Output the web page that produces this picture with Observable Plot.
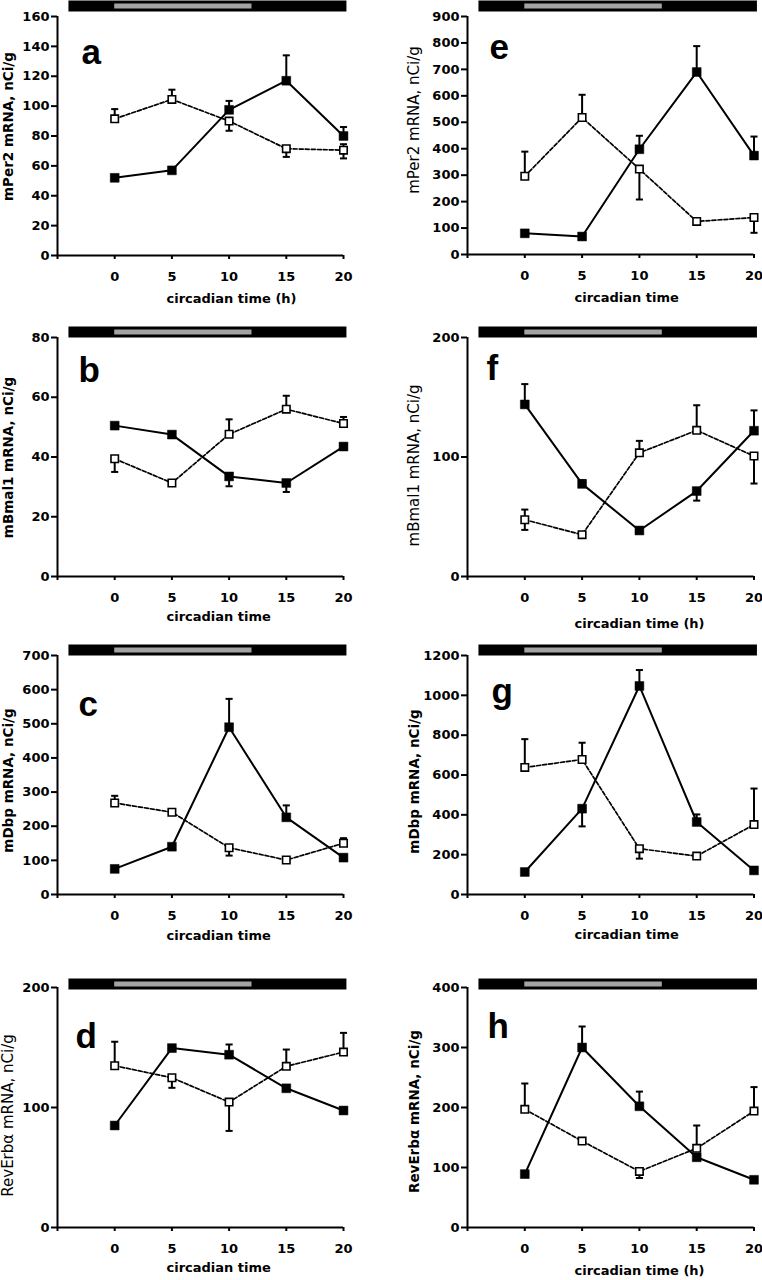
<!DOCTYPE html>
<html><head><meta charset="utf-8">
<script src="https://cdn.jsdelivr.net/npm/d3@7"></script>
<script src="https://cdn.jsdelivr.net/npm/@observablehq/plot@0.6"></script>
<style>
body{margin:0;background:#fff;}
#fig{position:relative;width:762px;height:1280px;overflow:hidden;background:#fff;}
.panel{position:absolute;width:381px;height:320px;}
</style></head><body><div id="fig"></div>
<script>
// ---- data ----
const times = [0, 5, 10, 15, 20];
const xTicks = [-5, 0, 5, 10, 15, 20];
const darkPhase = [-4, 20.3];
const lightPhase = [0, 12];

// a: mPer2 (left)
const aTicks = [0, 20, 40, 60, 80, 100, 120, 140, 160];
const aFilled = [52, 57, 97.5, 117, 80];
const aFilledUp = [0, 0, 6, 17, 6];
const aFilledDown = [0, 0, 0, 0, 0];
const aOpen = [91.5, 104.5, 90, 71.5, 70.5];
const aOpenUp = [6.5, 6.5, 0, 0, 4];
const aOpenDown = [0, 0, 6.5, 5.5, 5.5];

// b: mBmal1 (left)
const bTicks = [0, 20, 40, 60, 80];
const bFilled = [50.5, 47.5, 33.5, 31.3, 43.5];
const bFilledUp = [0, 0, 0, 0, 0];
const bFilledDown = [0, 0, 3.3, 3, 0];
const bOpen = [39.4, 31.3, 47.6, 56, 51.2];
const bOpenUp = [0, 0, 5, 4.5, 2.2];
const bOpenDown = [4.4, 0, 0, 0, 0];

// c: mDbp (left)
const cTicks = [0, 100, 200, 300, 400, 500, 600, 700];
const cFilled = [75, 140, 490, 226, 108];
const cFilledUp = [0, 0, 83, 35, 0];
const cFilledDown = [0, 0, 0, 0, 0];
const cOpen = [268, 241, 137, 101, 150];
const cOpenUp = [21, 0, 0, 0, 15];
const cOpenDown = [0, 0, 23, 0, 0];

// d: RevErbα (left)
const dTicks = [0, 100, 200];
const dFilled = [85, 149.5, 144, 116, 97.5];
const dFilledUp = [0, 0, 8.5, 0, 0];
const dFilledDown = [0, 0, 0, 0, 0];
const dOpen = [134.8, 124.8, 104.5, 134.3, 146.2];
const dOpenUp = [20, 0, 0, 14, 16];
const dOpenDown = [0, 8.4, 24, 0, 0];

// e: mPer2 (right)
const eTicks = [0, 100, 200, 300, 400, 500, 600, 700, 800, 900];
const eFilled = [80, 68, 398, 690, 374];
const eFilledUp = [0, 0, 51, 98, 72];
const eFilledDown = [0, 0, 0, 0, 0];
const eOpen = [296, 518, 323, 125, 140];
const eOpenUp = [93, 86, 0, 0, 0];
const eOpenDown = [0, 0, 115, 0, 58];

// f: mBmal1 (right)
const fTicks = [0, 100, 200];
const fFilled = [144, 77.5, 38.5, 71.5, 122];
const fFilledUp = [17, 3, 0, 0, 17];
const fFilledDown = [0, 0, 0, 8, 0];
const fOpen = [47.5, 35, 103.5, 122.3, 100.8];
const fOpenUp = [8.5, 0, 10, 21, 0];
const fOpenDown = [8.5, 0, 0, 0, 23];

// g: mDbp (right)
const gTicks = [0, 200, 400, 600, 800, 1000, 1200];
const gFilled = [113, 431, 1047, 364, 121];
const gFilledUp = [0, 0, 80, 38, 0];
const gFilledDown = [0, 89, 0, 0, 0];
const gOpen = [638, 678, 230, 193, 351];
const gOpenUp = [142, 84, 0, 0, 181];
const gOpenDown = [0, 0, 50, 0, 0];

// h: RevErbα (right)
const hTicks = [0, 100, 200, 300, 400];
const hFilled = [89, 300, 202, 117, 79.5];
const hFilledUp = [0, 35, 24.5, 0, 0];
const hFilledDown = [0, 0, 0, 0, 0];
const hOpen = [197, 144, 93.5, 132, 194];
const hOpenUp = [43, 0, 0, 38, 40];
const hOpenDown = [0, 0, 11, 0, 0];

// ---- panel layout ----
const panels = [
  {letter:"a", col:0, row:0, yLabel:"mPer2 mRNA, nCi/g", xLabel:"circadian time (h)", ticks:aTicks,
   f:aFilled, fu:aFilledUp, fd:aFilledDown, o:aOpen, ou:aOpenUp, od:aOpenDown,
   mt:16, mb:65, barDy:-10.5, lx:24, ly:47, ytDy:-9.5, xtDy:47, ytBold:true},
  {letter:"b", col:0, row:1, yLabel:"mBmal1 mRNA, nCi/g", xLabel:"circadian time", ticks:bTicks,
   f:bFilled, fu:bFilledUp, fd:bFilledDown, o:bOpen, ou:bOpenUp, od:bOpenDown,
   mt:17, mb:64, barDy:-5.5, lx:21, ly:44, ytDy:0.5, xtDy:44, ytBold:true},
  {letter:"c", col:0, row:2, yLabel:"mDbp mRNA, nCi/g", xLabel:"circadian time", ticks:cTicks,
   f:cFilled, fu:cFilledUp, fd:cFilledDown, o:cOpen, ou:cOpenUp, od:cOpenDown,
   mt:15, mb:66, barDy:-5.5, lx:21, ly:60, ytDy:5.5, xtDy:45, ytBold:true},
  {letter:"d", col:0, row:3, yLabel:"RevErbα mRNA, nCi/g", xLabel:"circadian time", ticks:dTicks,
   f:dFilled, fu:dFilledUp, fd:dFilledDown, o:dOpen, ou:dOpenUp, od:dOpenDown,
   mt:27, mb:53, barDy:-3.5, lx:18, ly:60, ytDy:8, xtDy:44, ytBold:false},
  {letter:"e", col:1, row:0, yLabel:"mPer2 mRNA, nCi/g", xLabel:"circadian time", ticks:eTicks,
   f:eFilled, fu:eFilledUp, fd:eFilledDown, o:eOpen, ou:eOpenUp, od:eOpenDown,
   mt:16, mb:66, barDy:-10.5, lx:22, ly:42, ytDy:-15.5, xtDy:47, ytBold:false},
  {letter:"f", col:1, row:1, yLabel:"mBmal1 mRNA, nCi/g", xLabel:"circadian time (h)", ticks:fTicks,
   f:fFilled, fu:fFilledUp, fd:fFilledDown, o:fOpen, ou:fOpenUp, od:fOpenDown,
   mt:17, mb:64, barDy:-5.5, lx:19, ly:42, ytDy:8.5, xtDy:51, ytBold:false},
  {letter:"g", col:1, row:2, yLabel:"mDbp mRNA, nCi/g", xLabel:"circadian time", ticks:gTicks,
   f:gFilled, fu:gFilledUp, fd:gFilledDown, o:gOpen, ou:gOpenUp, od:gOpenDown,
   mt:15, mb:66, barDy:-5.5, lx:24, ly:47, ytDy:6.5, xtDy:44, ytBold:true},
  {letter:"h", col:1, row:3, yLabel:"RevErbα mRNA, nCi/g", xLabel:"circadian time (h)", ticks:hTicks,
   f:hFilled, fu:hFilledUp, fd:hFilledDown, o:hOpen, ou:hOpenUp, od:hOpenDown,
   mt:27, mb:53, barDy:-3.5, lx:20, ly:50, ytDy:4, xtDy:47, ytBold:true}
];

const capSymbol = {
  draw(context, size) {
    const w = Math.sqrt(size) / 2;
    context.moveTo(-w, 0);
    context.lineTo(w, 0);
  }
};

function pointRows(vals) { return times.map((t, i) => ({x: t, y: vals[i]})); }
function errRows(vals, up, down) {
  const rows = [];
  times.forEach((t, i) => {
    if (up[i] > 0) rows.push({x: t, y1: vals[i], y2: vals[i] + up[i]});
    if (down[i] > 0) rows.push({x: t, y1: vals[i], y2: vals[i] - down[i]});
  });
  return rows;
}

const fig = document.getElementById("fig");
for (const p of panels) {
  const ymax = p.ticks[p.ticks.length - 1];
  const ml = p.col === 0 ? 57 : 86;
  const mr = p.col === 0 ? 38 : 8.5;
  const filledRows = pointRows(p.f);
  const openRows = pointRows(p.o);
  const errs = errRows(p.f, p.fu, p.fd).concat(errRows(p.o, p.ou, p.od));
  const chart = Plot.plot({
    width: 381, height: 320,
    marginLeft: ml, marginRight: mr, marginTop: p.mt, marginBottom: p.mb,
    style: {fontFamily: "DejaVu Sans", fontSize: "13px", fontWeight: "bold", background: "transparent", overflow: "visible", color: "#000"},
    x: {domain: [-5, 20]},
    y: {domain: [0, ymax]},
    marks: [
      Plot.ruleY([ymax], {x1: darkPhase[0], x2: darkPhase[1], stroke: "#000", strokeWidth: 11, dy: p.barDy}),
      Plot.ruleY([ymax], {x1: lightPhase[0], x2: lightPhase[1], stroke: "#a3a3a3", strokeWidth: 5, dy: p.barDy}),
      Plot.axisX({ticks: xTicks, tickSize: 4, tickPadding: 12, strokeWidth: 2, label: null,
        tickFormat: d => d < 0 ? "" : String(d), fontWeight: "bold", fontSize: 13}),
      Plot.axisY({ticks: p.ticks, tickSize: 6, tickPadding: 2, strokeWidth: 2, label: null,
        tickFormat: d => String(d), fontWeight: "bold", fontSize: 13}),
      Plot.ruleY([0], {x1: -5, x2: 20, stroke: "#000", strokeWidth: 2}),
      Plot.ruleX([-5], {y1: 0, y2: ymax, stroke: "#000", strokeWidth: 2}),
      Plot.ruleX(errs, {x: "x", y1: "y1", y2: "y2", stroke: "#000", strokeWidth: 2}),
      Plot.dot(errs, {x: "x", y: "y2", symbol: capSymbol, r: 4, stroke: "#000", strokeWidth: 2}),
      Plot.line(openRows, {x: "x", y: "y", stroke: "#000", strokeWidth: 1.7, strokeDasharray: "4,2"}),
      Plot.line(filledRows, {x: "x", y: "y", stroke: "#000", strokeWidth: 2}),
      Plot.dot(filledRows, {x: "x", y: "y", symbol: "square", r: 5, fill: "#000", stroke: "#000", strokeWidth: 0.5}),
      Plot.dot(openRows, {x: "x", y: "y", symbol: "square", r: 4.2, fill: "#fff", stroke: "#000", strokeWidth: 1.6}),
      Plot.text([p.letter], {text: d => d, frameAnchor: "top-left", dx: p.lx, dy: p.ly, textAnchor: "start",
        lineAnchor: "bottom", fontSize: 35, fontFamily: "Liberation Sans", fontWeight: "bold", fill: "#000"}),
      Plot.text([p.yLabel], {text: d => d, frameAnchor: "left", rotate: -90, textAnchor: "middle", lineAnchor: "middle",
        dx: p.col === 0 ? -49 : -53, dy: p.ytDy,
        fontSize: p.ytBold ? 13.5 : 15, fontWeight: p.ytBold ? "bold" : "normal", fill: "#000"}),
      Plot.text([p.xLabel], {text: d => d, frameAnchor: "bottom-left", dx: p.col === 0 ? 109 : 107, dy: p.xtDy,
        textAnchor: "start", fontSize: 13, fontWeight: "bold", fill: "#000"})
    ]
  });
  const div = document.createElement("div");
  div.className = "panel";
  div.style.left = (p.col * 381) + "px";
  div.style.top = (p.row * 320) + "px";
  div.appendChild(chart);
  fig.appendChild(div);
}
</script>
</body></html>
